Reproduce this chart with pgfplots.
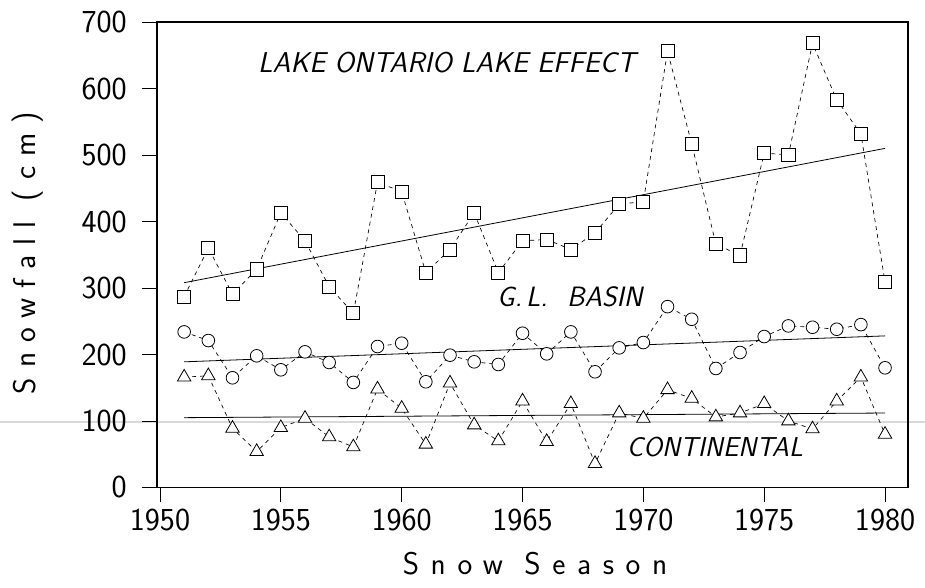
\documentclass[border=0pt]{standalone}
\usepackage{fontspec}
\usepackage{pgfplots}
\pgfplotsset{compat=1.18}
\newfontfamily\lms{lmsans17-regular.otf}[SlantedFont=lmsans17-oblique.otf, ItalicFont=lmsans17-oblique.otf]
\newfontfamily\lmsw{lmsans17-regular.otf}[LetterSpace=37]
\newfontfamily\lmsy{lmsans17-regular.otf}[LetterSpace=32]

\pgfplotstableread{
year lake
1951 287
1952 360
1953 291
1954 328
1955 413
1956 371
1957 302
1958 262
1959 459
1960 445
1961 323
1962 358
1963 413
1964 323
1965 371
1966 373
1967 358
1968 383
1969 426
1970 430
1971 656
1972 517
1973 366
1974 349
1975 503
1976 500
1977 668
1978 583
1979 532
1980 309
}\lakeeffect

\pgfplotstableread{
year basin
1951 234
1952 221
1953 165
1954 198
1955 177
1956 204
1957 188
1958 158
1959 212
1960 217
1961 159
1962 199
1963 189
1964 185
1965 232
1966 201
1967 234
1968 174
1969 210
1970 218
1971 272
1972 253
1973 179
1974 203
1975 227
1976 243
1977 241
1978 238
1979 245
1980 180
}\glbasin

\pgfplotstableread{
year cont
1951 166
1952 168
1953 89
1954 54
1955 90
1956 104
1957 76
1958 61
1959 148
1960 119
1961 65
1962 157
1963 94
1964 70
1965 130
1966 69
1967 126
1968 36
1969 112
1970 104
1971 147
1972 134
1973 106
1974 112
1975 126
1976 100
1977 88
1978 130
1979 166
1980 80
}\continental

\begin{document}
\begin{tikzpicture}
\useasboundingbox (0pt,0pt) rectangle (693.75pt,441pt);
\draw[black!15, line width=0.8pt] (0pt,124.5pt) -- (693.75pt,124.5pt);
\begin{axis}[
  at={(117.75pt,75.375pt)}, anchor=south west,
  scale only axis, width=563.25pt, height=349.1pt,
  xmin=1949.876, xmax=1980.95, ymin=0, ymax=700,
  xtick={1950,1955,1960,1965,1970,1975,1980},
  ytick={0,100,200,300,400,500,600,700},
  xtick pos=left, ytick pos=left, tick align=outside,
  major tick length=11.25pt,
  tick style={black, line width=0.7pt},
  axis line style={line width=1.3pt},
  /pgf/number format/1000 sep={},
  /pgf/number format/assume math mode=true,
  ticklabel style={font=\lms\fontsize{24}{26}\selectfont},
  yticklabel style={xshift=-8pt},
  xticklabel style={yshift=-1pt},
  clip=false,
]
% connecting dashed series
\addplot[black, line width=0.5pt, dash pattern=on 3pt off 3pt,
  mark=square*, mark size=4.9pt,
  mark options={solid, fill=white, draw=black, line width=0.6pt}]
  table[x=year, y=lake] {\lakeeffect};
\addplot[black, line width=0.5pt, dash pattern=on 3pt off 3pt,
  mark=*, mark size=4.75pt,
  mark options={solid, fill=white, draw=black, line width=0.6pt}]
  table[x=year, y=basin] {\glbasin};
\addplot[black, line width=0.5pt, dash pattern=on 3pt off 3pt,
  mark=triangle*, mark size=5.8pt,
  mark options={solid, fill=white, draw=black, line width=0.6pt}]
  table[x=year, y=cont] {\continental};
% trend lines
\addplot[black, line width=0.6pt] coordinates {(1951,308) (1980,510)};
\addplot[black, line width=0.6pt] coordinates {(1951,189) (1980,228)};
\addplot[black, line width=0.6pt] coordinates {(1951,105) (1980,112)};
% labels
\node[font=\lms\slshape\fontsize{21.5}{24}\selectfont] at (axis cs:1961.87,639.5) {LAKE ONTARIO LAKE EFFECT};
\node[font=\lms\slshape\fontsize{21}{24}\selectfont] at (axis cs:1966.96,286.3) {G.\kern3pt L.\kern8pt\ BASIN};
\node[font=\lms\slshape\fontsize{20.5}{24}\selectfont] at (axis cs:1972.96,60.9) {CONTINENTAL};
\end{axis}
\node[anchor=base, inner sep=0pt, font=\lmsw\fontsize{23.5}{26}\selectfont] at (401.25pt,9.75pt) {Snow Season};
\node[anchor=base, inner sep=0pt, rotate=90, font=\lmsy\fontsize{23.5}{26}\selectfont] at (26.25pt,251.25pt) {Snowfall (cm)};
\end{tikzpicture}
\end{document}
